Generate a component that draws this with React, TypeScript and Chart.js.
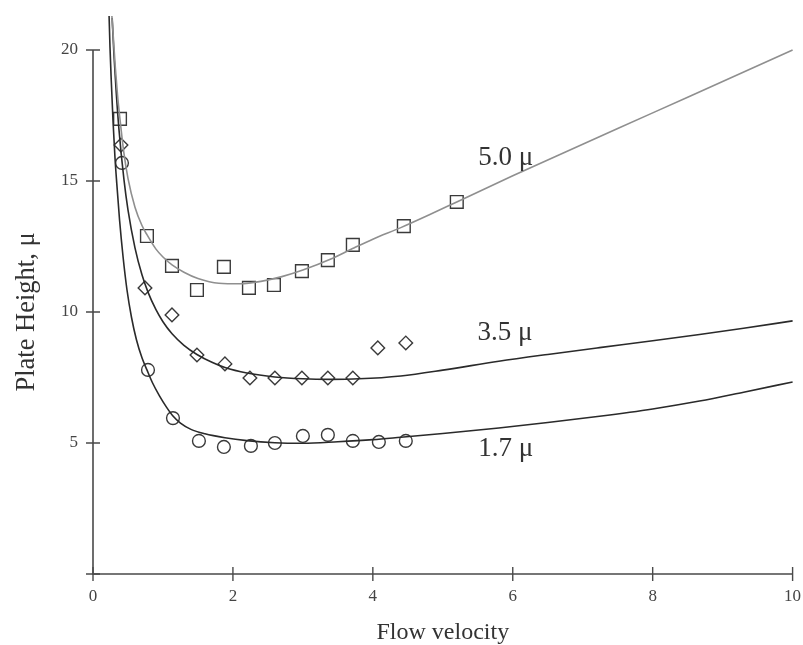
import React, { useEffect, useRef } from "react";
import { Chart, registerables } from "chart.js";

Chart.register(...registerables);

const FONT = "'Liberation Serif', 'Times New Roman', serif";

const xTicks = [0, 2, 4, 6, 8, 10];
const yTicks = [0, 5, 10, 15, 20];
const yTickLabels = ["", "5", "10", "15", "20"];

// Measured points, particle size 5.0 μ (squares)
const squareX = [0.386, 0.771, 1.129, 1.486, 1.871, 2.229, 2.586, 2.986, 3.357, 3.714, 4.443, 5.2];
const squareY = [17.37, 12.9, 11.76, 10.84, 11.72, 10.92, 11.03, 11.56, 11.98, 12.56, 13.28, 14.2];

// Measured points, particle size 3.5 μ (diamonds)
const diamondX = [0.4, 0.743, 1.129, 1.486, 1.886, 2.243, 2.6, 2.986, 3.357, 3.714, 4.071, 4.471];
const diamondY = [16.37, 10.92, 9.89, 8.36, 8.02, 7.48, 7.48, 7.48, 7.48, 7.48, 8.63, 8.82];

// Measured points, particle size 1.7 μ (circles)
const circleX = [0.414, 0.786, 1.143, 1.514, 1.871, 2.257, 2.6, 3.0, 3.357, 3.714, 4.086, 4.471];
const circleY = [15.69, 7.79, 5.95, 5.08, 4.85, 4.89, 5.0, 5.27, 5.31, 5.08, 5.04, 5.08];

// Fitted curve, 5.0 μ
const curve50X = [0.27, 0.29, 0.32, 0.35, 0.386, 0.44, 0.5, 0.6, 0.7, 0.771, 0.9, 1.0, 1.13, 1.3, 1.5, 1.8, 2.1, 2.4, 2.7, 3.0, 3.4, 3.71, 4.0, 4.4, 4.8, 5.2, 6.0, 7.0, 8.0, 9.0, 10.0];
const curve50Y = [21.3, 20.5, 19.3, 18.3, 17.35, 16.1, 15.1, 14.0, 13.3, 12.95, 12.4, 12.1, 11.8, 11.52, 11.28, 11.1, 11.08, 11.17, 11.35, 11.6, 12.02, 12.42, 12.78, 13.22, 13.7, 14.2, 15.2, 16.4, 17.6, 18.8, 20.0];

// Fitted curve, 3.5 μ
const curve35X = [0.274, 0.3, 0.33, 0.37, 0.443, 0.5, 0.6, 0.7, 0.786, 0.9, 1.0, 1.13, 1.3, 1.486, 1.7, 1.886, 2.2, 2.6, 3.0, 3.4, 3.8, 4.4, 5.0, 5.8, 6.5, 7.24, 8.0, 8.67, 9.3, 10.0];
const curve35Y = [21.22, 19.8, 18.47, 17.0, 15.04, 13.9, 12.45, 11.42, 10.76, 10.09, 9.63, 9.17, 8.73, 8.38, 8.08, 7.88, 7.67, 7.52, 7.45, 7.43, 7.45, 7.56, 7.78, 8.12, 8.38, 8.64, 8.9, 9.14, 9.38, 9.66];

// Fitted curve, 1.7 μ
const curve17X = [0.23, 0.243, 0.26, 0.286, 0.314, 0.34, 0.38, 0.43, 0.486, 0.55, 0.62, 0.7, 0.771, 0.85, 0.95, 1.05, 1.143, 1.25, 1.4, 1.6, 1.886, 2.2, 2.6, 3.0, 3.5, 4.0, 4.4, 5.0, 5.8, 6.5, 7.24, 8.0, 8.67, 9.3, 10.0];
const curve17Y = [21.3, 20.1, 18.9, 17.3, 15.9, 14.9, 13.5, 12.1, 10.84, 9.8, 8.95, 8.25, 7.79, 7.3, 6.8, 6.37, 6.03, 5.76, 5.52, 5.35, 5.2, 5.09, 5.01, 4.99, 5.05, 5.13, 5.22, 5.36, 5.57, 5.78, 6.02, 6.3, 6.6, 6.94, 7.33];

// Curve labels
const labelTexts = ["5.0 μ", "3.5 μ", "1.7 μ"];
const labelX = [5.9, 5.89, 5.9];
const labelY = [15.88, 9.2, 4.77];

const pts = (xs: number[], ys: number[]) => xs.map((x, i) => ({ x, y: ys[i] }));

const axisPlugin = {
  id: "axisPlugin",
  beforeDatasetsDraw(chart: any) {
    const { ctx, chartArea, scales } = chart;
    const xs = scales.x;
    const ys = scales.y;
    ctx.save();
    ctx.strokeStyle = "#4a4a4a";
    ctx.lineWidth = 1.6;
    ctx.beginPath();
    ctx.moveTo(chartArea.left, chartArea.top);
    ctx.lineTo(chartArea.left, chartArea.bottom);
    ctx.lineTo(chartArea.right, chartArea.bottom);
    ctx.stroke();
    ctx.lineWidth = 1.4;
    ctx.beginPath();
    for (const v of xTicks) {
      const px = xs.getPixelForValue(v);
      ctx.moveTo(px, chartArea.bottom - 7);
      ctx.lineTo(px, chartArea.bottom + 7);
    }
    for (const v of yTicks) {
      const py = ys.getPixelForValue(v);
      ctx.moveTo(chartArea.left - 7, py);
      ctx.lineTo(chartArea.left + 7, py);
    }
    ctx.stroke();
    ctx.restore();
  },
  afterDraw(chart: any) {
    const { ctx, scales } = chart;
    ctx.save();
    ctx.fillStyle = "#333333";
    ctx.font = `27px ${FONT}`;
    ctx.textAlign = "center";
    ctx.textBaseline = "middle";
    labelTexts.forEach((t, i) => {
      ctx.fillText(t, scales.x.getPixelForValue(labelX[i]), scales.y.getPixelForValue(labelY[i]));
    });
    ctx.restore();
  },
};

export default function App() {
  const ref = useRef<HTMLCanvasElement | null>(null);

  useEffect(() => {
    if (!ref.current) return;
    const markerCommon = {
      showLine: false,
      backgroundColor: "rgba(0,0,0,0)",
      borderColor: "#3a3a3a",
      pointBorderWidth: 1.4,
    };
    const curveCommon = {
      pointRadius: 0,
      borderWidth: 1.6,
      cubicInterpolationMode: "monotone",
      clip: false,
      fill: false,
    };
    const chart = new Chart(ref.current, {
      type: "line",
      data: {
        datasets: [
          { ...curveCommon, label: "5.0 μ fit", data: pts(curve50X, curve50Y), borderColor: "#8f8f8f" },
          { ...curveCommon, label: "3.5 μ fit", data: pts(curve35X, curve35Y), borderColor: "#2a2a2a" },
          { ...curveCommon, label: "1.7 μ fit", data: pts(curve17X, curve17Y), borderColor: "#2a2a2a" },
          { ...markerCommon, label: "5.0 μ", data: pts(squareX, squareY), pointStyle: "rect", pointRadius: 9 },
          { ...markerCommon, label: "3.5 μ", data: pts(diamondX, diamondY), pointStyle: "rectRot", pointRadius: 6.8 },
          { ...markerCommon, label: "1.7 μ", data: pts(circleX, circleY), pointStyle: "circle", pointRadius: 6.4 },
        ] as any,
      },
      options: {
        animation: false,
        responsive: false,
        events: [],
        layout: { padding: { left: 0, right: 10, top: 50, bottom: 0 } },
        plugins: { legend: { display: false }, tooltip: { enabled: false } },
        scales: {
          x: {
            type: "linear",
            min: 0,
            max: 10,
            grid: { display: false, drawTicks: false },
            border: { display: false },
            afterFit: (s: any) => { s.height = 71; s.paddingLeft = 0; s.paddingRight = 0; },
            afterBuildTicks: (s: any) => { s.ticks = xTicks.map((v) => ({ value: v })); },
            ticks: {
              padding: 12,
              color: "#444444",
              font: { family: FONT, size: 17 },
              callback: (v: any) => String(v),
            },
            title: {
              display: true,
              text: "Flow velocity",
              color: "#333333",
              font: { family: FONT, size: 24, lineHeight: 1 },
              padding: { top: 0, bottom: 0 },
            },
          },
          y: {
            type: "linear",
            min: 0,
            max: 20,
            grid: { display: false, drawTicks: false },
            border: { display: false },
            afterFit: (s: any) => { s.width = 93; s.paddingTop = 0; s.paddingBottom = 0; },
            afterBuildTicks: (s: any) => { s.ticks = yTicks.map((v) => ({ value: v })); },
            ticks: {
              padding: 15,
              color: "#444444",
              font: { family: FONT, size: 17 },
              callback: (v: any) => yTickLabels[yTicks.indexOf(Number(v))] ?? "",
            },
            title: {
              display: true,
              text: "Plate Height, μ",
              color: "#333333",
              font: { family: FONT, size: 26.5, lineHeight: 1 },
              padding: { top: 14, bottom: 0 },
            },
          },
        },
      },
      plugins: [axisPlugin],
    });
    return () => chart.destroy();
  }, []);

  return (
    <div style={{ position: "absolute", left: 0, top: 0, width: 803, height: 645, background: "#ffffff" }}>
      <canvas ref={ref} width={803} height={645} />
    </div>
  );
}
